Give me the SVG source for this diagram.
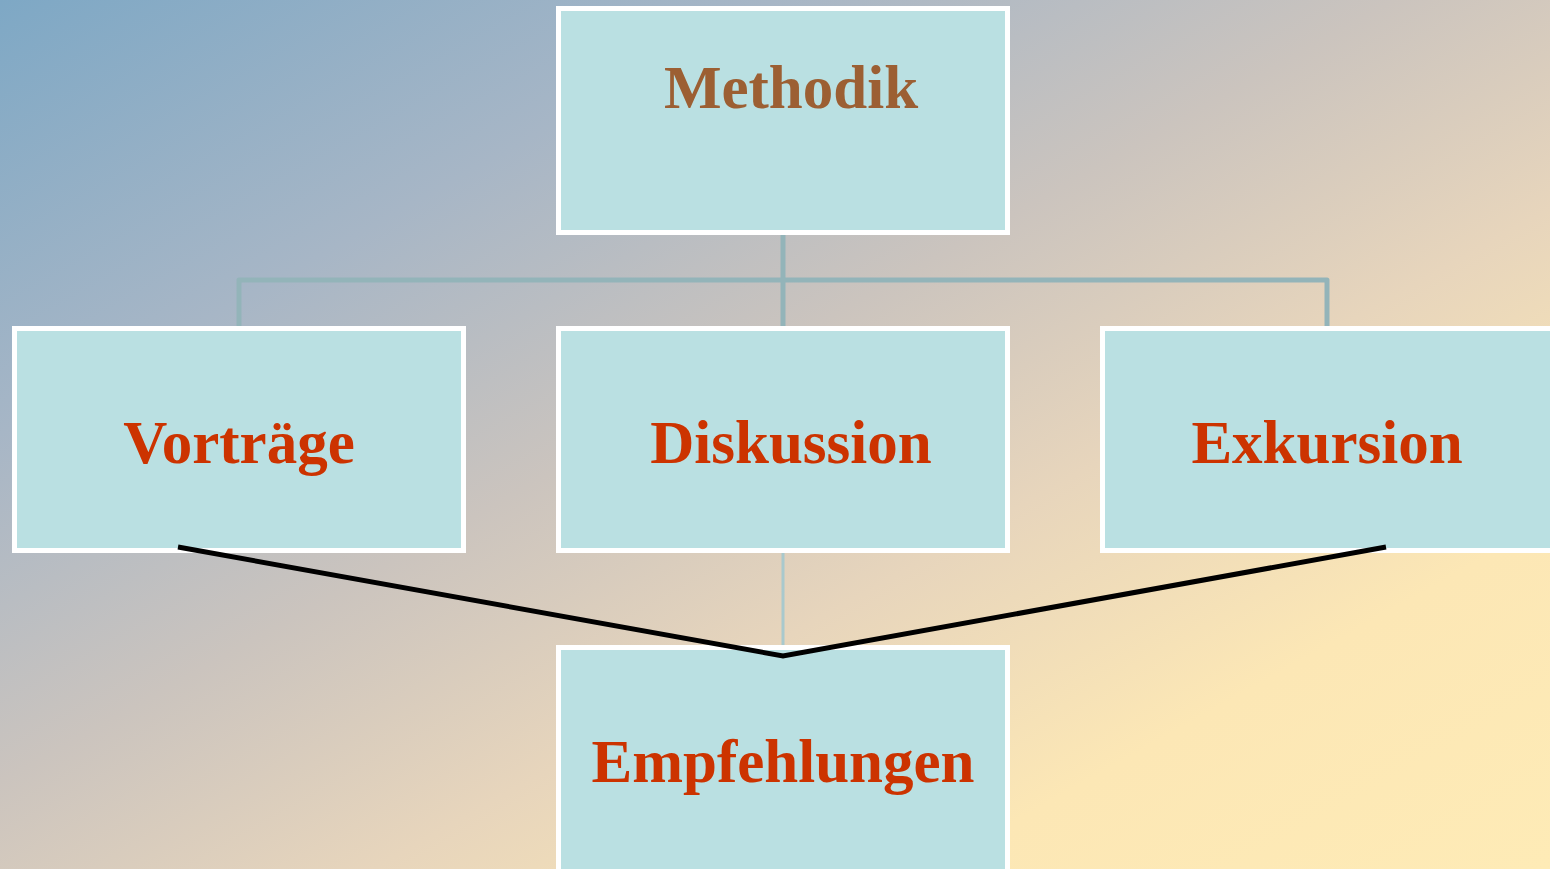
<svg xmlns="http://www.w3.org/2000/svg" width="1550" height="869" viewBox="0 0 1550 869">
<defs>
<linearGradient id="bg" x1="0" y1="0" x2="1" y2="1">
<stop offset="0" stop-color="#7ea8c5"/>
<stop offset="0.25" stop-color="#a7b6c6"/>
<stop offset="0.45" stop-color="#cbc4be"/>
<stop offset="0.62" stop-color="#e7d5bc"/>
<stop offset="0.8" stop-color="#fce7b5"/>
<stop offset="1" stop-color="#feebb6"/>
</linearGradient>
<style>
.box{fill:#bae0e2;stroke:#ffffff;stroke-width:5}
.t{font-family:"Liberation Serif","Times New Roman",serif;font-weight:bold;font-size:61px;text-anchor:middle;fill:#cc3300}
.brown{fill:#9c5f33}
.tree{fill:none;stroke:#93b4b9;stroke-width:5;stroke-linejoin:round}
.thin{fill:none;stroke:#a9c9cd;stroke-width:3}
.blk{fill:none;stroke:#000000;stroke-width:5}
</style>
</defs>
<rect x="0" y="0" width="1550" height="869" fill="url(#bg)"/>
<g id="connectors">
<path class="tree" d="M783,235 V326 M239,326 V280 H1327 V326"/>
<path class="thin" d="M783,553 V645"/>
</g>
<g id="methodik">
<rect class="box" x="558.5" y="8.5" width="449" height="224"/>
<text class="t brown" x="791" y="108">Methodik</text>
</g>
<g id="vortraege">
<rect class="box" x="14.5" y="328.5" width="449" height="222"/>
<text class="t" x="239" y="463">Vorträge</text>
</g>
<g id="diskussion">
<rect class="box" x="558.5" y="328.5" width="449" height="222"/>
<text class="t" x="791" y="463">Diskussion</text>
</g>
<g id="exkursion">
<rect class="box" x="1102.5" y="328.5" width="460" height="222"/>
<text class="t" x="1327" y="463">Exkursion</text>
</g>
<g id="empfehlungen">
<rect class="box" x="558.5" y="647.5" width="449" height="240"/>
<text class="t" x="783" y="782">Empfehlungen</text>
</g>
<g id="merge-lines">
<path class="blk" d="M178,547 L783,656 L1386,547"/>
</g>
</svg>
